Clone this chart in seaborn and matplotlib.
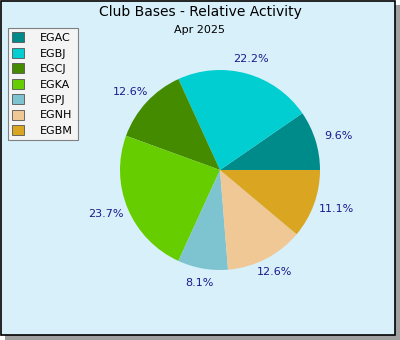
import matplotlib
matplotlib.use("Agg")
import numpy as np
import matplotlib.pyplot as plt
import seaborn as sns
from matplotlib.patches import Rectangle

sns.set_style("white")
plt.rcParams['font.family'] = ['DejaVu Sans']
plt.rcParams['text.color'] = 'black'

bases = ["EGAC", "EGBJ", "EGCJ", "EGKA", "EGPJ", "EGNH", "EGBM"]
shares = [9.6, 22.2, 12.6, 23.7, 8.1, 12.6, 11.1]
colors = ["#008b8b", "#00ced1", "#458b00", "#66cd00", "#7ec4d0", "#f0c896", "#daa520"]
title = "Club Bases - Relative Activity"
subtitle = "Apr 2025"

fig = plt.figure(figsize=(4, 3.4), dpi=100)
fig.patch.set_facecolor("white")
W, H = 400, 340
bg = fig.add_axes([0, 0, 1, 1], zorder=-5)
bg.set_xlim(0, W)
bg.set_ylim(H, 0)
bg.axis("off")
bg.add_patch(Rectangle((5, 5), 395, 335, facecolor="#a0a0a0", edgecolor="none"))
bg.add_patch(Rectangle((0.6, 0.6), 394, 334, facecolor="#d8f0fa", edgecolor="black", linewidth=1.2))

ax = fig.add_axes([120 / W, 70 / H, 200 / W, 200 / H])
ax.set_facecolor("none")
wedges, texts = ax.pie(shares, colors=colors, startangle=0, counterclock=True,
                       wedgeprops=dict(linewidth=0))
for w, v in zip(wedges, shares):
    ang = np.deg2rad((w.theta1 + w.theta2) / 2)
    c, s = np.cos(ang), np.sin(ang)
    r = 1.15
    ax.text(r * c + 0.1 * np.sign(c) * abs(c) ** 2, r * s, f"{v}%", ha="center", va="center",
            fontsize=8, color="#1a1a8c")
ax.set_xlim(-1, 1)
ax.set_ylim(-1, 1)
ax.set_aspect("equal")
ax.axis("off")

fig.text(200 / W, 1 - 12 / H, title, ha="center", va="center", fontsize=10, color="black")
fig.text(200 / W, 1 - 30 / H, subtitle, ha="center", va="center", fontsize=8, color="black")

handles = [Rectangle((0, 0), 1, 1, facecolor=c, edgecolor="#555555", linewidth=0.6) for c in colors]
leg = fig.legend(handles, bases, loc="upper left", bbox_to_anchor=(8 / W, 1 - 28 / H),
                 fontsize=8, frameon=True, fancybox=False, handlelength=1.0, handleheight=1.0,
                 handletextpad=1.5, labelspacing=0.42, borderpad=0.4, borderaxespad=0)
for t in leg.get_texts():
    t.set_color("black")
leg.get_frame().set_facecolor("#f4f4f4")
leg.get_frame().set_edgecolor("#808080")
leg.get_frame().set_alpha(1)
leg.get_frame().set_linewidth(0.8)

fig.savefig("out.png", dpi=100)
